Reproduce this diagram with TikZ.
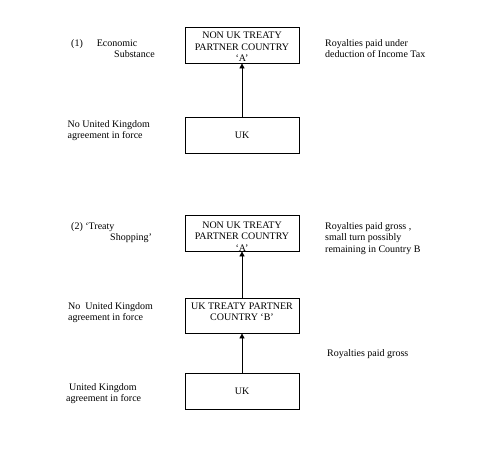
\documentclass[tikz,border=0pt]{standalone}
\usepackage{fontspec}
\setmainfont{Liberation Serif}
\usetikzlibrary{arrows.meta,positioning}

\begin{document}
\begin{tikzpicture}[x=1pt,y=-1pt,>={Triangle[length=5pt,width=5pt]},
    font=\fontsize{10}{11.5}\selectfont,
    box/.style={draw,line width=0.8pt,minimum width=114pt,minimum height=36pt,
      inner sep=0pt,align=center},
    boxtxt/.style={inner sep=0pt,align=center},
    lbl/.style={anchor=base west,inner sep=0pt,align=left}]
  \useasboundingbox (0,0) rectangle (490,458);
  % (1) economic substance
  \node[box] (nonA1) at (242,45) {};
  \node[boxtxt,yshift=-2pt] (nonA1txt) at (nonA1.center) {NON UK TREATY\\PARTNER COUNTRY\\`A'};
  \node[box] (uk1) at (242,135.5) {UK};
  \draw[->,line width=0.8pt] (uk1) -- (nonA1);
  \node[lbl] (econ) at (71,57.5) {(1)\hspace{14pt}Economic\\\hspace*{43pt}Substance};
  \node[lbl] (roy1) at (325,57.5) {Royalties paid under\\deduction of Income Tax};
  \node[lbl] (noagr1) at (67.5,138.5) {No United Kingdom\\agreement in force};
  % (2) treaty shopping
  \node[box] (nonA2) at (242,233) {};
  \node[boxtxt,yshift=-3.5pt] (nonA2txt) at (nonA2.center) {NON UK TREATY\\PARTNER COUNTRY\\`A'};
  \node[box,minimum height=35pt] (partB) at (242,315.5) {};
  \node[boxtxt,yshift=4pt] (partBtxt) at (partB.center) {UK TREATY PARTNER\\COUNTRY `B'};
  \node[box] (uk2) at (242,391) {UK};
  \draw[->,line width=0.8pt] (partB) -- (nonA2);
  \draw[->,line width=0.8pt] (uk2) -- (partB);
  \node[lbl] (shop) at (71,240.5) {(2) `Treaty\\\hspace*{39pt}Shopping'};
  \node[lbl] (roy2) at (325,252) {Royalties paid gross ,\\small turn possibly\\remaining in Country B};
  \node[lbl] (noagr2) at (68,320.5) {No\hspace{5pt}United Kingdom\\agreement in force};
  \node[lbl] (roy3) at (327,356) {Royalties paid gross};
  \node[lbl] (agr) at (66,401.5) {\hspace*{3pt}United Kingdom\\agreement in force};
\end{tikzpicture}
\end{document}
